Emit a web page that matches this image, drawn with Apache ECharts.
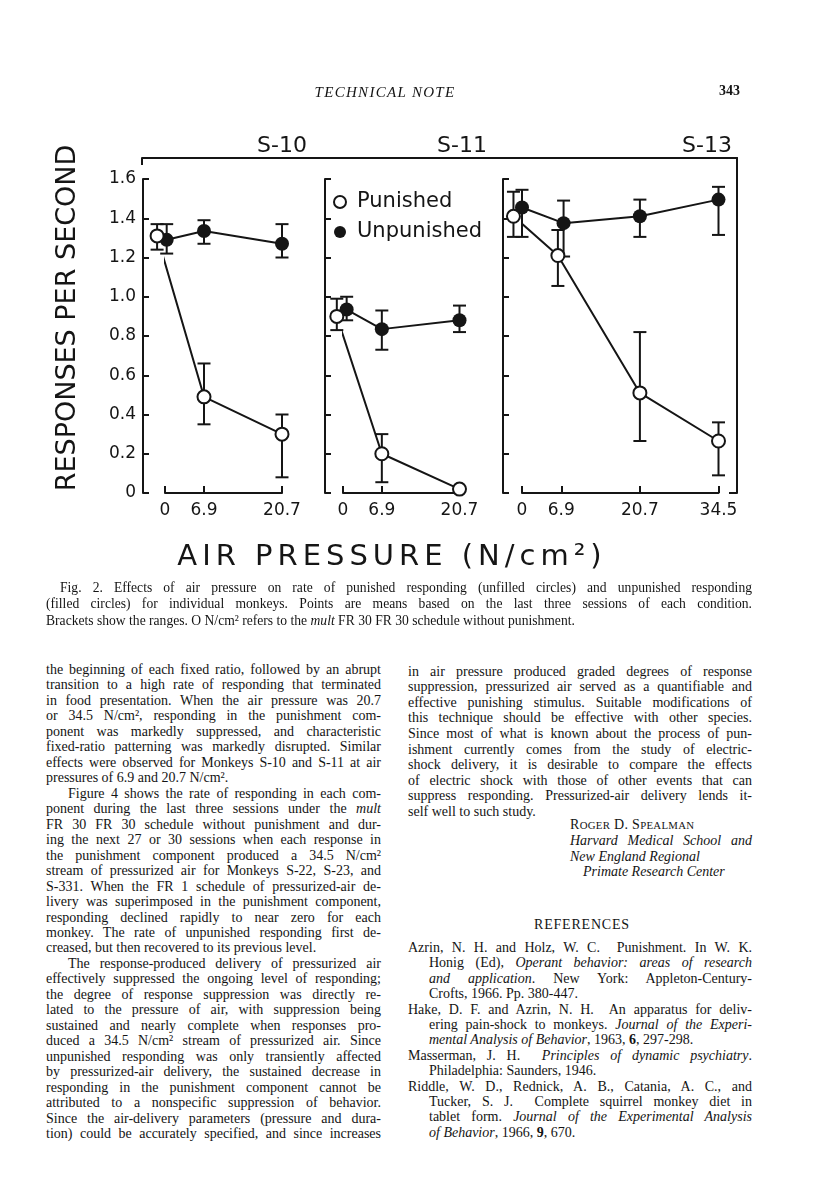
<!DOCTYPE html>
<html>
<head>
<meta charset="utf-8">
<script src="https://cdn.jsdelivr.net/npm/echarts@6/dist/echarts.min.js"></script>
<style>
body { margin: 0; background: #fff; }
#page { position: relative; width: 816px; height: 1200px; background: #fff; color: #141414;
        font-family: "Liberation Serif", "DejaVu Serif", serif; font-size: 14px; overflow: hidden; }
#chart { position: absolute; left: 0; top: 0; width: 816px; height: 580px; z-index: 0; }
#text { position: absolute; left: 0; top: 0; z-index: 2; }
.ln { position: absolute; height: 16px; line-height: 16px; white-space: nowrap; }
.hd { position: absolute; white-space: nowrap; z-index: 2; }
#xname { position: absolute; left: 92px; width: 600px; top: 538px; text-align: center; z-index: 2;
         font-family: "DejaVu Sans", sans-serif; font-size: 29px; line-height: 34px; letter-spacing: 5px; color: #151515; }
</style>
</head>
<body>
<div id="page">
  <div id="chart"></div>
  <div class="hd" style="left:285px;width:200px;text-align:center;top:84px;font-style:italic;font-size:15px;letter-spacing:1.3px;">TECHNICAL NOTE</div>
  <div class="hd" style="left:690px;width:50px;text-align:right;top:83px;font-size:14px;font-weight:bold;">343</div>
  <div id="xname">AIR PRESSURE (N/cm²)</div>
  <div id="text"></div>
</div>
<script>
// x-axis ticks (air pressure, N/cm2) and y ticks
var pressS10 = [0, 6.9, 20.7];
var pressS11 = [0, 6.9, 20.7];
var pressS13 = [0, 6.9, 20.7, 34.5];
var yMax = 1.6;
var yStep = 0.2;

// S-10  (points at 0 are drawn nudged sideways in the original)
var s10PunX    = [-1.4, 6.9, 20.7];
var s10PunMean = [1.31, 0.49, 0.30];
var s10PunLow  = [1.24, 0.35, 0.08];
var s10PunHigh = [1.37, 0.66, 0.40];
var s10UnpX    = [0.3, 6.9, 20.7];
var s10UnpMean = [1.29, 1.335, 1.27];
var s10UnpLow  = [1.22, 1.27, 1.20];
var s10UnpHigh = [1.37, 1.39, 1.37];

// S-11
var s11PunX    = [-1.1, 6.9, 20.7];
var s11PunMean = [0.90, 0.20, 0.02];
var s11PunLow  = [0.83, 0.055, null];
var s11PunHigh = [0.99, 0.30, null];
var s11UnpX    = [0.65, 6.9, 20.7];
var s11UnpMean = [0.935, 0.835, 0.88];
var s11UnpLow  = [0.88, 0.73, 0.82];
var s11UnpHigh = [1.00, 0.93, 0.955];

// S-13
var s13PunX    = [-1.5, 6.3, 20.7, 34.5];
var s13PunMean = [1.41, 1.21, 0.51, 0.265];
var s13PunLow  = [1.305, 1.055, 0.265, 0.09];
var s13PunHigh = [1.535, 1.34, 0.82, 0.36];
var s13UnpX    = [0, 7.3, 20.7, 34.5];
var s13UnpMean = [1.455, 1.375, 1.41, 1.495];
var s13UnpLow  = [1.305, 1.205, 1.305, 1.315];
var s13UnpHigh = [1.545, 1.49, 1.495, 1.56];

var ink = '#151515';
var sans = '"DejaVu Sans", sans-serif';

var panels = [
    { label: 'S-10', ticks: pressS10,
      pun: [s10PunX, s10PunMean, s10PunLow, s10PunHigh], unp: [s10UnpX, s10UnpMean, s10UnpLow, s10UnpHigh] },
    { label: 'S-11', ticks: pressS11,
      pun: [s11PunX, s11PunMean, s11PunLow, s11PunHigh], unp: [s11UnpX, s11UnpMean, s11UnpLow, s11UnpHigh] },
    { label: 'S-13', ticks: pressS13,
      pun: [s13PunX, s13PunMean, s13PunLow, s13PunHigh], unp: [s13UnpX, s13UnpMean, s13UnpLow, s13UnpHigh] }
];
// pixel layout of each panel: x of 0, width to last tick, distance of y axis left of 0
var layout = [
    { left: 165, width: 117, yOffset: 22, labelRight: 307 },
    { left: 343, width: 116.5, yOffset: 18, labelRight: 487 },
    { left: 522, width: 196.5, yOffset: 19, labelRight: 732 }
];
var plotTop = 179, plotHeight = 314;

function zip(xs, ys) {
    var out = [];
    for (var i = 0; i < xs.length; i++) out.push([xs[i], ys[i]]);
    return out;
}
function bars(s) {
    var out = [];
    for (var i = 0; i < s[0].length; i++) {
        if (s[2][i] != null && s[3][i] != null) out.push([s[0][i], s[2][i], s[3][i]]);
    }
    return out;
}
function renderBar(params, api) {
    var top = api.coord([api.value(0), api.value(2)]);
    var bot = api.coord([api.value(0), api.value(1)]);
    var half = 6.5;
    var st = { stroke: ink, lineWidth: 2 };
    return { type: 'group', children: [
        { type: 'line', shape: { x1: top[0], y1: top[1], x2: bot[0], y2: bot[1] }, style: st },
        { type: 'line', shape: { x1: top[0] - half, y1: top[1], x2: top[0] + half, y2: top[1] }, style: st },
        { type: 'line', shape: { x1: bot[0] - half, y1: bot[1], x2: bot[0] + half, y2: bot[1] }, style: st }
    ] };
}

var grids = [], xAxes = [], yAxes = [], series = [], graphics = [];
var axisLine = { show: true, onZero: false, lineStyle: { color: ink, width: 2 } };

panels.forEach(function (p, i) {
    var L = layout[i];
    grids.push({ left: L.left, top: plotTop, width: L.width, height: plotHeight });
    xAxes.push({
        gridIndex: i, type: 'value', min: 0, max: p.ticks[p.ticks.length - 1],
        axisLine: axisLine,
        axisTick: { show: true, inside: true, length: 7, customValues: p.ticks, lineStyle: { color: ink, width: 2 } },
        axisLabel: { customValues: p.ticks, color: ink, fontSize: 17, fontFamily: sans, margin: 9 },
        splitLine: { show: false }
    });
    yAxes.push({
        gridIndex: i, type: 'value', min: 0, max: yMax, interval: yStep, offset: L.yOffset,
        axisLine: axisLine,
        axisTick: { show: true, inside: true, length: 6, lineStyle: { color: ink, width: 2 } },
        axisLabel: { show: i === 0, color: ink, fontSize: 17, fontFamily: sans, margin: 7,
            formatter: function (v) { return v === 0 ? '0' : v.toFixed(1); } },
        splitLine: { show: false }
    });
    series.push({
        type: 'custom', name: 'range', xAxisIndex: i, yAxisIndex: i, z: 1, silent: true,
        renderItem: renderBar, encode: { x: 0, y: [1, 2] },
        data: bars(p.pun).concat(bars(p.unp))
    });
    series.push({
        type: 'line', name: 'Unpunished', xAxisIndex: i, yAxisIndex: i, z: 3, clip: false,
        data: zip(p.unp[0], p.unp[1]), symbol: 'circle', symbolSize: 14,
        itemStyle: { color: ink }, lineStyle: { color: ink, width: 2 }
    });
    series.push({
        type: 'line', name: 'Punished', xAxisIndex: i, yAxisIndex: i, z: 4, clip: false,
        data: zip(p.pun[0], p.pun[1]), symbol: 'circle', symbolSize: 13,
        itemStyle: { color: '#fff', borderColor: ink, borderWidth: 2 }, lineStyle: { color: ink, width: 2 }
    });
    graphics.push({
        type: 'text', right: 816 - L.labelRight, top: 135,
        style: { text: p.label, fill: ink, font: '22px ' + sans }
    });
});

// outer frame: top rule and right bracket
grids.push({ left: 142, top: 158, width: 595, height: 335 });
xAxes.push({ gridIndex: 3, type: 'value', position: 'top', min: 0, max: 1,
    axisLine: axisLine, axisTick: { show: false }, axisLabel: { show: false }, splitLine: { show: false } });
yAxes.push({ gridIndex: 3, type: 'value', position: 'right', min: 0, max: 1, interval: 1,
    axisLine: axisLine, axisTick: { show: true, inside: true, length: 8, lineStyle: { color: ink, width: 2 } },
    axisLabel: { show: false }, splitLine: { show: false } });
graphics.push({ type: 'line', shape: { x1: 142, y1: 158, x2: 142, y2: 165 }, style: { stroke: ink, lineWidth: 2 } });

graphics.push({
    type: 'text', x: 68, y: 318, rotation: Math.PI / 2,
    style: { text: 'RESPONSES PER SECOND', fill: ink, font: '27px ' + sans, align: 'center', verticalAlign: 'middle' }
});

var myChart = echarts.init(document.getElementById('chart'));
myChart.setOption({
    animation: false,
    backgroundColor: '#fff',
    grid: grids,
    xAxis: xAxes,
    yAxis: yAxes,
    legend: {
        orient: 'vertical', left: 328, top: 186, itemGap: 8, itemWidth: 24, itemHeight: 12,
        selectedMode: false,
        textStyle: { color: ink, fontSize: 21, fontFamily: sans, lineHeight: 22 },
        data: [
            { name: 'Punished', icon: 'circle', itemStyle: { color: '#fff', borderColor: ink, borderWidth: 2 } },
            { name: 'Unpunished', icon: 'circle', itemStyle: { color: ink, borderWidth: 0 } }
        ]
    },
    graphic: graphics,
    series: series
});

// ---- page text ----
// ">" starts an indented paragraph line, "|" ends a paragraph (not justified)
var leftLines = [
    'the beginning of each fixed ratio, followed by an abrupt',
    'transition to a high rate of responding that terminated',
    'in food presentation. When the air pressure was 20.7',
    'or 34.5 N/cm², responding in the punishment com-',
    'ponent was markedly suppressed, and characteristic',
    'fixed-ratio patterning was markedly disrupted. Similar',
    'effects were observed for Monkeys S-10 and S-11 at air',
    'pressures of 6.9 and 20.7 N/cm².|',
    '>Figure 4 shows the rate of responding in each com-',
    'ponent during the last three sessions under the <i>mult</i>',
    'FR 30 FR 30 schedule without punishment and dur-',
    'ing the next 27 or 30 sessions when each response in',
    'the punishment component produced a 34.5 N/cm²',
    'stream of pressurized air for Monkeys S-22, S-23, and',
    'S-331. When the FR 1 schedule of pressurized-air de-',
    'livery was superimposed in the punishment component,',
    'responding declined rapidly to near zero for each',
    'monkey. The rate of unpunished responding first de-',
    'creased, but then recovered to its previous level.|',
    '>The response-produced delivery of pressurized air',
    'effectively suppressed the ongoing level of responding;',
    'the degree of response suppression was directly re-',
    'lated to the pressure of air, with suppression being',
    'sustained and nearly complete when responses pro-',
    'duced a 34.5 N/cm² stream of pressurized air. Since',
    'unpunished responding was only transiently affected',
    'by pressurized-air delivery, the sustained decrease in',
    'responding in the punishment component cannot be',
    'attributed to a nonspecific suppression of behavior.',
    'Since the air-delivery parameters (pressure and dura-',
    'tion) could be accurately specified, and since increases'
];
var rightLines = [
    'in air pressure produced graded degrees of response',
    'suppression, pressurized air served as a quantifiable and',
    'effective punishing stimulus. Suitable modifications of',
    'this technique should be effective with other species.',
    'Since most of what is known about the process of pun-',
    'ishment currently comes from the study of electric-',
    'shock delivery, it is desirable to compare the effects',
    'of electric shock with those of other events that can',
    'suppress responding. Pressurized-air delivery lends it-',
    'self well to such study.|'
];
var refs = [
    ['Azrin, N. H. and Holz, W. C.&nbsp; Punishment. In W. K.',
     'Honig (Ed), <i>Operant behavior: areas of research</i>',
     '<i>and application</i>. New York: Appleton-Century-',
     'Crofts, 1966. Pp. 380-447.|'],
    ['Hake, D. F. and Azrin, N. H.&nbsp; An apparatus for deliv-',
     'ering pain-shock to monkeys. <i>Journal of the Experi-</i>',
     '<i>mental Analysis of Behavior</i>, 1963, <b>6</b>, 297-298.|'],
    ['Masserman, J. H.&nbsp; <i>Principles of dynamic psychiatry</i>.',
     'Philadelphia: Saunders, 1946.|'],
    ['Riddle, W. D., Rednick, A. B., Catania, A. C., and',
     'Tucker, S. J.&nbsp; Complete squirrel monkey diet in',
     'tablet form. <i>Journal of the Experimental Analysis</i>',
     '<i>of Behavior</i>, 1966, <b>9</b>, 670.|']
];
var captionLines = [
    '>Fig. 2. Effects of air pressure on rate of punished responding (unfilled circles) and unpunished responding',
    '(filled circles) for individual monkeys. Points are means based on the last three sessions of each condition.',
    'Brackets show the ranges. O N/cm² refers to the <i>mult</i> FR 30 FR 30 schedule without punishment.|'
];

var textBox = document.getElementById('text');
// place one printed line; justified lines are stretched to the column width
function addLine(s, left, width, center, indent, extra) {
    var d = document.createElement('div');
    d.className = 'ln';
    var ind = 0, justify = true;
    if (s.charAt(0) === '>') { s = s.slice(1); ind = indent; }
    if (s.charAt(s.length - 1) === '|') { s = s.slice(0, -1); justify = false; }
    d.style.left = (left + ind) + 'px';
    d.style.top = (center - 8) + 'px';
    if (extra) d.style.cssText += extra;
    d.innerHTML = s;
    textBox.appendChild(d);
    if (justify) {
        var w = width - ind;
        var natural = d.getBoundingClientRect().width;
        var txt = d.textContent;
        var gaps = (txt.match(/[ \u00a0]/g) || []).length;
        var diff = w - natural;
        if (diff >= 0 && gaps > 0) {
            d.style.wordSpacing = (diff / gaps) + 'px';
        } else if (diff < 0) {
            d.style.letterSpacing = (diff / txt.length) + 'px';
        }
    }
}

var capFont = 'font-size:13.6px;';
captionLines.forEach(function (s, i) { addLine(s, 46, 706, 587.5 + i * 16.7, 14, capFont); });
leftLines.forEach(function (s, i) { addLine(s, 46, 335, 670 + i * 15.47, 22); });
rightLines.forEach(function (s, i) { addLine(s, 408, 344, 671.7 + i * 15.56, 22); });

addLine('R<span style="font-size:10.8px">OGER</span> D. S<span style="font-size:10.8px">PEALMAN</span>|', 570, 182, 825, 0, 'letter-spacing:0.3px;');
addLine('<i>Harvard Medical School and</i>', 570, 182, 841, 0);
addLine('<i>New England Regional</i>|', 570, 182, 856.7, 0);
addLine('<i>Primate Research Center</i>|', 583, 169, 872, 0);
addLine('REFERENCES|', 534, 120, 925, 0, 'letter-spacing:0.8px;');

var refRow = 0;
refs.forEach(function (entry) {
    entry.forEach(function (s, j) {
        var ind = j === 0 ? 0 : 21;
        addLine(s, 408 + ind, 344 - ind, 948 + refRow * 15.4, 0);
        refRow++;
    });
});
</script>
</body>
</html>
